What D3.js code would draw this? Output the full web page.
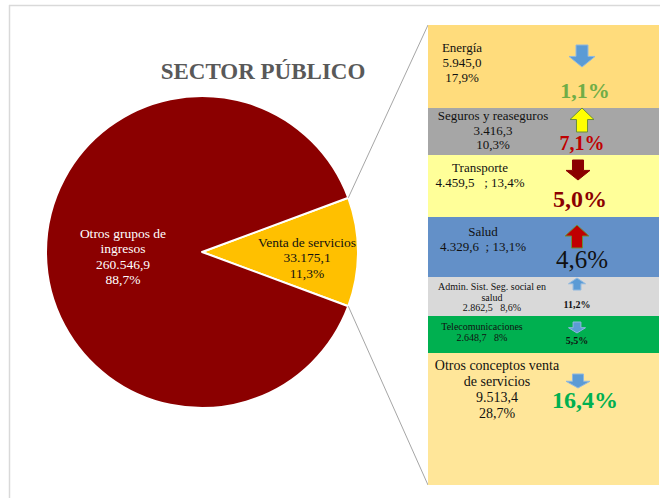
<!DOCTYPE html>
<html>
<head>
<meta charset="utf-8">
<script src="https://cdn.jsdelivr.net/npm/d3@7"></script>
<style>
  body { margin: 0; background: #fff; }
  svg text { font-family: "Liberation Serif", "Times New Roman", serif; }
</style>
</head>
<body>
<div id="chart"></div>
<script>
// pie data
const pieNames = ['Venta de servicios', 'Otros grupos de ingresos'];
const pieValues = [33175.1, 260546.9];
const pieLabels = [['Venta de servicios', '33.175,1', '11,3%'], ['Otros grupos de', 'ingresos', '260.546,9', '88,7%']];

// breakdown of "Venta de servicios"
const subNames = ['Energía', 'Seguros y reaseguros', 'Transporte', 'Salud', 'Admin. Sist. Seg. social en salud', 'Telecomunicaciones', 'Otros conceptos venta de servicios'];
const subLines = [
  ['Energía', '5.945,0', '17,9%'],
  ['Seguros y reaseguros', '3.416,3', '10,3%'],
  ['Transporte', '4.459,5   ; 13,4%'],
  ['Salud', '4.329,6  ; 13,1%'],
  ['Admin. Sist. Seg. social en', 'salud', '2.862,5   8,6%'],
  ['Telecomunicaciones', '2.648,7   8%'],
  ['Otros conceptos venta', 'de servicios', '9.513,4', '28,7%']
];
const subChange = ['1,1%', '7,1%', '5,0%', '4,6%', '11,2%', '5,5%', '16,4%'];
const subDir = ['down', 'up', 'down', 'up', 'up', 'down', 'down'];

// layout / style (not data)
const boxH = [83, 47, 62, 60, 39, 37, 132];
const boxFill = ['#FFDC7C', '#A6A6A6', '#FFFF99', '#6390C8', '#D9D9D9', '#00B050', '#FFE699'];
const arrowFill = ['#5B9BD5', '#FFFF00', '#8B0000', '#C00000', '#5B9BD5', '#5B9BD5', '#5B9BD5'];
const arrowStroke = ['#8fb8e0', '#6b8e3a', '#8B0000', '#6b8e3a', '#8fb8e0', '#8fb8e0', '#8fb8e0'];
const changeColor = ['#70AD47', '#C00000', '#8B0000', '#111', '#111', '#111', '#00B050'];
const changeSize = [22, 20, 24, 25, 10, 10, 24];
const changeBold = [true, true, true, false, true, true, true];
const textSize = [13, 13, 13, 13, 10, 10, 14];
const lineGap = [15, 14.5, 15, 15, 10.5, 11, 16];
const textX = [462, 493, 480, 483, 492, 482, 497];
const textY0 = [48, 116, 168, 232, 287, 327, 365];
const arrowW = [26, 24, 24, 24, 17, 17, 24];
const arrowTop = [45, 108, 160, 225, 278, 322, 374];
const arrowHt = [22, 24, 20, 23, 12, 11, 14];
const arrowX = [582, 582, 578, 577, 577, 577, 578];
const changeX = [585, 582, 580, 582, 577, 577, 585];
const changeY = [98, 150, 207, 268, 308, 344, 408];

const width = 660, height = 498;
const svg = d3.select('#chart').append('svg').attr('width', width).attr('height', height);

// frame lines
svg.append('line').attr('x1', 9).attr('x2', width).attr('y1', 5.5).attr('y2', 5.5).attr('stroke', '#d9d9d9').attr('stroke-width', 1.5);
svg.append('line').attr('x1', 9.5).attr('x2', 9.5).attr('y1', 5).attr('y2', height).attr('stroke', '#d9d9d9').attr('stroke-width', 1.5);

// title
svg.append('text').attr('x', 263).attr('y', 79).attr('text-anchor', 'middle')
  .attr('font-size', 23).attr('font-weight', 'bold').attr('fill', '#595959').text('SECTOR PÚBLICO');

// pie
const cx = 202, cy = 252, r = 156;
const total = d3.sum(pieValues);
const ventaAngle = 2 * Math.PI * pieValues[0] / total;
const pie = d3.pie().sort(null).startAngle(Math.PI / 2 - ventaAngle / 2).endAngle(Math.PI / 2 - ventaAngle / 2 + 2 * Math.PI);
const arcs = pie(pieValues);
const arc = d3.arc().innerRadius(0).outerRadius(r);
const pieColor = d3.scaleOrdinal().domain(pieNames).range(['#FFC000', '#8B0000']);
const g = svg.append('g').attr('transform', `translate(${cx},${cy})`);
g.selectAll('path').data(arcs).join('path')
  .attr('d', arc).attr('fill', (d, i) => pieColor(pieNames[i]))
  .attr('stroke', '#fff').attr('stroke-width', 2).attr('stroke-linejoin', 'round');

// pie labels
const labelPos = [[307, 242, '#111'], [123, 233, '#fff']];
pieLabels.forEach((lines, i) => {
  const t = svg.append('text').attr('text-anchor', 'middle').attr('font-size', 13.5).attr('fill', labelPos[i][2]);
  lines.forEach((l, j) => t.append('tspan').attr('x', labelPos[i][0]).attr('y', labelPos[i][1] + j * 15.5 + 4.5).text(l));
});

// right panel
const px0 = 428, px1 = 659, py0 = 25;
const tops = [];
boxH.reduce((acc, h) => { tops.push(acc); return acc + h; }, py0);
const py1 = py0 + d3.sum(boxH);

// connector lines from slice edges
const a0 = arcs[0].startAngle, a1 = arcs[0].endAngle;
const edge = a => [cx + r * Math.sin(a), cy - r * Math.cos(a)];
const e0 = edge(a0), e1 = edge(a1);
svg.append('line').attr('x1', e0[0]).attr('y1', e0[1]).attr('x2', px0).attr('y2', py0).attr('stroke', '#a6a6a6').attr('stroke-width', 1);
svg.append('line').attr('x1', e1[0]).attr('y1', e1[1]).attr('x2', px0).attr('y2', py1).attr('stroke', '#a6a6a6').attr('stroke-width', 1);

const boxes = svg.append('g').selectAll('g').data(subNames).join('g');
boxes.append('rect').attr('x', px0).attr('y', (d, i) => tops[i]).attr('width', px1 - px0)
  .attr('height', (d, i) => boxH[i]).attr('fill', (d, i) => boxFill[i]);

boxes.each(function (d, i) {
  const b = d3.select(this);
  const t = b.append('text').attr('text-anchor', 'middle').attr('font-size', textSize[i]).attr('fill', '#111');
  subLines[i].forEach((l, j) => t.append('tspan').attr('x', textX[i]).attr('y', textY0[i] + j * lineGap[i] + textSize[i] * 0.33)
    .attr('xml:space', 'preserve').style('white-space', 'pre').text(l));

  // block arrow
  const w = arrowW[i], h = arrowHt[i], bw = w * 0.46, hh = h * 0.48;
  const x = arrowX[i], y = arrowTop[i];
  let pts;
  if (subDir[i] === 'down') {
    pts = [[x - bw / 2, y], [x + bw / 2, y], [x + bw / 2, y + h - hh], [x + w / 2, y + h - hh], [x, y + h], [x - w / 2, y + h - hh], [x - bw / 2, y + h - hh]];
  } else {
    pts = [[x, y], [x + w / 2, y + hh], [x + bw / 2, y + hh], [x + bw / 2, y + h], [x - bw / 2, y + h], [x - bw / 2, y + hh], [x - w / 2, y + hh]];
  }
  b.append('path').attr('d', d3.line()(pts) + 'Z').attr('fill', arrowFill[i])
    .attr('stroke', arrowStroke[i]).attr('stroke-width', 1);

  b.append('text').attr('x', changeX[i]).attr('y', changeY[i]).attr('text-anchor', 'middle')
    .attr('font-size', changeSize[i]).attr('font-weight', changeBold[i] ? 'bold' : 'normal')
    .attr('fill', changeColor[i]).text(subChange[i]);
});
</script>
</body>
</html>
